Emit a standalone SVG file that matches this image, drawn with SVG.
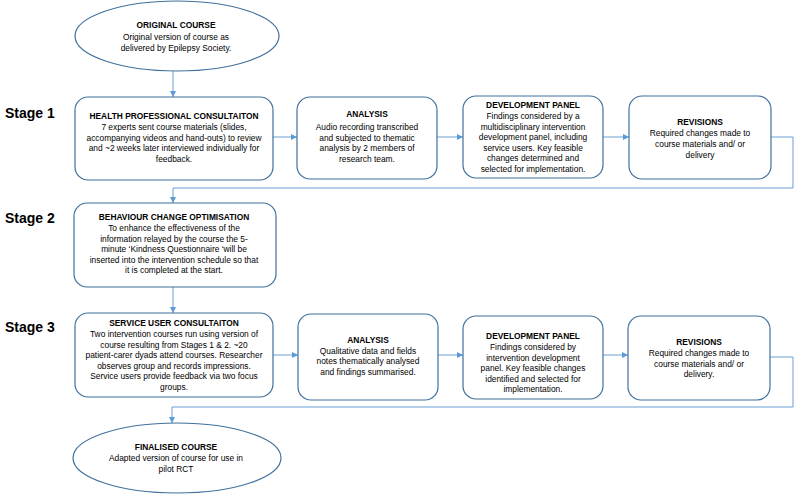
<svg xmlns="http://www.w3.org/2000/svg" width="796" height="496" viewBox="0 0 796 496">
<style>
.box{fill:#fff;stroke:#41719C;stroke-width:1.2}
.t{font-family:"Liberation Sans",Arial,sans-serif;font-size:8.4px;fill:#000;text-anchor:middle}
.b{font-weight:bold}
.stage{font-family:"Liberation Sans",Arial,sans-serif;font-size:14px;font-weight:bold;fill:#000}
.c{fill:none;stroke:#6A9FD4;stroke-width:1}
</style>
<defs>
<marker id="ah" viewBox="0 0 6 6" refX="6" refY="3" markerWidth="6" markerHeight="6" orient="auto" markerUnits="userSpaceOnUse">
<path d="M0,0 L6,3 L0,6 z" fill="#5B9BD5"/>
</marker>
</defs>
<rect width="796" height="496" fill="#fff"/>
<text class="stage" x="5" y="118">Stage 1</text>
<text class="stage" x="5" y="223">Stage 2</text>
<text class="stage" x="5" y="332">Stage 3</text>
<g id="connectors">
<path class="c" d="M173,71 V97" marker-end="url(#ah)"/>
<path class="c" d="M273,137 H297" marker-end="url(#ah)"/>
<path class="c" d="M437,137 H463" marker-end="url(#ah)"/>
<path class="c" d="M603,137 H629" marker-end="url(#ah)"/>
<path class="c" d="M771,137 H793 V188 H173 V203" marker-end="url(#ah)"/>
<path class="c" d="M173,287 V313" marker-end="url(#ah)"/>
<path class="c" d="M273,355 H298" marker-end="url(#ah)"/>
<path class="c" d="M438,355 H463" marker-end="url(#ah)"/>
<path class="c" d="M603,355 H628" marker-end="url(#ah)"/>
<path class="c" d="M770,357 H793 V407 H172 V423" marker-end="url(#ah)"/>
</g>
<g id="original">
<ellipse class="box" cx="177" cy="36" rx="102" ry="35"/>
<text class="t b" x="176" y="28">ORIGINAL COURSE</text>
<text class="t" x="176" y="40">Original version of course as</text>
<text class="t" x="176" y="51">delivered by Epilepsy Society.</text>
</g>
<g id="hp">
<rect class="box" x="75" y="97" width="198" height="83" rx="13"/>
<text class="t b" x="174" y="119">HEALTH PROFESSIONAL CONSULTAITON</text>
<text class="t" x="174" y="130">7 experts sent course materials (slides,</text>
<text class="t" x="174" y="140.5">accompanying videos and hand-outs) to review</text>
<text class="t" x="174" y="151">and ~2 weeks later interviewed individually for</text>
<text class="t" x="174" y="161.5">feedback.</text>
</g>
<g id="analysis1">
<rect class="box" x="297" y="97" width="140" height="82" rx="13"/>
<text class="t b" x="367" y="117">ANALYSIS</text>
<text class="t" x="367" y="130">Audio recording transcribed</text>
<text class="t" x="367" y="140.5">and subjected to thematic</text>
<text class="t" x="367" y="151">analysis by 2 members of</text>
<text class="t" x="367" y="161.5">research team.</text>
</g>
<g id="dev1">
<rect class="box" x="463" y="96" width="140" height="82" rx="13"/>
<text class="t b" x="533" y="108">DEVELOPMENT PANEL</text>
<text class="t" x="533" y="119">Findings considered by a</text>
<text class="t" x="533" y="129.5">multidisciplinary intervention</text>
<text class="t" x="533" y="140">development panel, including</text>
<text class="t" x="533" y="150.5">service users. Key feasible</text>
<text class="t" x="533" y="161">changes determined and</text>
<text class="t" x="533" y="171.5">selected for implementation.</text>
</g>
<g id="rev1">
<rect class="box" x="629" y="96" width="142" height="83" rx="13"/>
<text class="t b" x="700" y="125">REVISIONS</text>
<text class="t" x="700" y="136">Required changes made to</text>
<text class="t" x="700" y="147">course materials and/ or</text>
<text class="t" x="700" y="157.5">delivery</text>
</g>
<g id="bco">
<rect class="box" x="74" y="203" width="202" height="84" rx="13"/>
<text class="t b" x="174" y="220">BEHAVIOUR CHANGE OPTIMISATION</text>
<text class="t" x="174" y="231">To enhance the effectiveness of the</text>
<text class="t" x="174" y="241.5">information relayed by the course the 5-</text>
<text class="t" x="174" y="252">minute ‘Kindness Questionnaire ‘will be</text>
<text class="t" x="174" y="262.5">inserted into the intervention schedule so that</text>
<text class="t" x="174" y="273">it is completed at the start.</text>
</g>
<g id="suc">
<rect class="box" x="75" y="313" width="198" height="84" rx="13"/>
<text class="t b" x="174" y="326">SERVICE USER CONSULTAITON</text>
<text class="t" x="174" y="337">Two intervention courses run using version of</text>
<text class="t" x="174" y="347.5">course resulting from Stages 1 &amp; 2. ~20</text>
<text class="t" x="174" y="358">patient-carer dyads attend courses. Researcher</text>
<text class="t" x="174" y="368.5">observes group and records impressions.</text>
<text class="t" x="174" y="379">Service users provide feedback via two focus</text>
<text class="t" x="174" y="389.5">groups.</text>
</g>
<g id="analysis3">
<rect class="box" x="298" y="314" width="140" height="86" rx="13"/>
<text class="t b" x="368" y="343">ANALYSIS</text>
<text class="t" x="368" y="353.5">Qualitative data and fields</text>
<text class="t" x="368" y="364">notes thematically analysed</text>
<text class="t" x="368" y="374.5">and findings summarised.</text>
</g>
<g id="dev3">
<rect class="box" x="463" y="316" width="140" height="83" rx="13"/>
<text class="t b" x="533" y="339">DEVELOPMENT PANEL</text>
<text class="t" x="533" y="350">Findings considered by</text>
<text class="t" x="533" y="360.5">intervention development</text>
<text class="t" x="533" y="371">panel. Key feasible changes</text>
<text class="t" x="533" y="381.5">identified and selected for</text>
<text class="t" x="533" y="392">implementation.</text>
</g>
<g id="rev3">
<rect class="box" x="628" y="316" width="142" height="84" rx="13"/>
<text class="t b" x="699" y="345">REVISIONS</text>
<text class="t" x="699" y="356">Required changes made to</text>
<text class="t" x="699" y="366.5">course materials and/ or</text>
<text class="t" x="699" y="377">delivery.</text>
</g>
<g id="final">
<ellipse class="box" cx="177" cy="458" rx="104" ry="35"/>
<text class="t b" x="176" y="450">FINALISED COURSE</text>
<text class="t" x="176" y="461">Adapted version of course for use in</text>
<text class="t" x="176" y="472">pilot RCT</text>
</g>
</svg>
